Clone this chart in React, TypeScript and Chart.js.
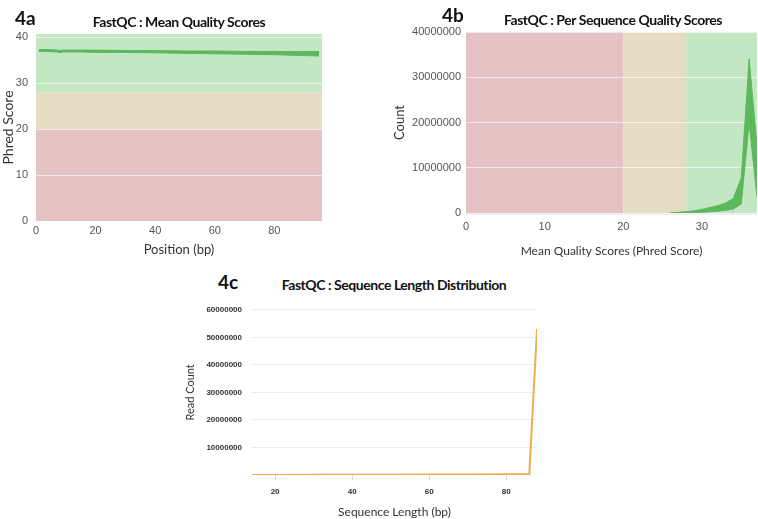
import React, { useEffect, useRef } from "react";
import { Chart, registerables } from "chart.js";

Chart.register(...registerables);

// ---------- Data ----------
// 4a : Mean quality scores (range across samples)
const A_POSITIONS = [1, 4, 7, 8, 9, 12, 15, 20, 30, 40, 50, 60, 70, 80, 90, 95];
const A_UPPER = [37.3, 37.3, 37.2, 37.1, 37.2, 37.2, 37.2, 37.2, 37.1, 37.1, 37.0, 37.0, 36.9, 36.9, 36.9, 36.9];
const A_LOWER = [36.9, 36.9, 36.8, 36.6, 36.8, 36.8, 36.8, 36.7, 36.7, 36.6, 36.5, 36.4, 36.3, 36.2, 36.0, 35.9];
const A_X_TICKS = [0, 20, 40, 60, 80];
const A_Y_TICKS = [0, 10, 20, 30, 40];
const A_BAND_LIMITS = [0, 20, 28, 40.7];

// 4b : Per sequence quality scores (range across samples)
const B_SCORES = [26, 27, 28, 29, 30, 31, 32, 33, 34, 35, 36, 37];
const B_UPPER = [50000, 150000, 300000, 500000, 800000, 1200000, 1600000, 2200000, 3200000, 7800000, 34000000, 15000000];
const B_LOWER = [0, 20000, 50000, 100000, 150000, 250000, 400000, 600000, 900000, 2000000, 20000000, 3500000];
const B_X_TICKS = [0, 10, 20, 30];
const B_Y_TICKS = [0, 10000000, 20000000, 30000000, 40000000];
const B_BAND_LIMITS = [0, 20, 28, 37];

// 4c : Sequence length distribution
const C_LENGTHS = [14, 20, 30, 40, 50, 60, 70, 80, 86, 88];
const C_COUNTS = [20000, 30000, 50000, 80000, 100000, 150000, 200000, 300000, 400000, 53000000];
const C_X_TICKS = [20, 40, 60, 80];
const C_Y_TICKS = [10000000, 20000000, 30000000, 40000000, 50000000, 60000000];

// ---------- Styles ----------
const GREEN = "#5cb85c";
const ORANGE = "#f0ad4e";
const BAND_COLORS = ["#e6c3c3", "#e6dcc3", "#c3e6c3"];
const TICK_FONT = { family: "'Liberation Sans', Arial, sans-serif", size: 11 };
const TITLE_FAMILY = "Lato, 'Open Sans', sans-serif";

const bandPlugin = {
  id: "bands",
  beforeDraw(chart: any, _args: any, opts: any) {
    if (!opts || !opts.limits) return;
    const { ctx, chartArea } = chart;
    const scale = chart.scales[opts.axis];
    const lim: number[] = opts.limits;
    ctx.save();
    for (let i = 0; i < lim.length - 1; i++) {
      const p1 = scale.getPixelForValue(lim[i]);
      const p2 = scale.getPixelForValue(lim[i + 1]);
      ctx.fillStyle = opts.colors[i];
      if (opts.axis === "y") {
        ctx.fillRect(chartArea.left, Math.min(p1, p2), chartArea.right - chartArea.left, Math.abs(p2 - p1));
      } else {
        ctx.fillRect(Math.min(p1, p2), chartArea.top, Math.abs(p2 - p1), chartArea.bottom - chartArea.top);
      }
    }
    if (opts.baseline) {
      ctx.fillStyle = opts.baseline;
      ctx.fillRect(chartArea.left, chartArea.bottom, chartArea.right - chartArea.left, 1.5);
    }
    ctx.restore();
  },
};

const pts = (xs: number[], ys: number[]) => xs.map((x, i) => ({ x, y: ys[i] }));
const fixTicks = (vals: number[]) => (s: any) => {
  s.ticks = vals.map((v) => ({ value: v }));
};

function configA(): any {
  return {
    type: "line",
    data: {
      datasets: [
        { data: pts(A_POSITIONS, A_UPPER), borderColor: GREEN, borderWidth: 1, pointRadius: 0, fill: false, tension: 0 },
        { data: pts(A_POSITIONS, A_LOWER), borderColor: GREEN, backgroundColor: GREEN, borderWidth: 1, pointRadius: 0, fill: "-1", tension: 0 },
      ],
    },
    plugins: [bandPlugin],
    options: {
      animation: false,
      responsive: false,
      events: [],
      layout: { padding: { top: 34, right: 18, left: 0, bottom: 0 } },
      plugins: {
        legend: { display: false },
        tooltip: { enabled: false },
        bands: { axis: "y", limits: A_BAND_LIMITS, colors: BAND_COLORS },
      },
      scales: {
        x: {
          type: "linear",
          min: 0,
          max: 96,
          afterBuildTicks: fixTicks(A_X_TICKS),
          afterFit: (s: any) => { s.height = 37; },
          grid: { display: false, drawTicks: false },
          border: { display: false },
          ticks: { font: TICK_FONT, color: "#555", padding: 3, maxRotation: 0 },
          title: { display: true, text: "Position (bp)", color: "#333", font: { family: TITLE_FAMILY, size: 13 }, padding: 0 },
        },
        y: {
          type: "linear",
          min: 0,
          max: 40.7,
          afterBuildTicks: fixTicks(A_Y_TICKS),
          afterFit: (s: any) => { s.width = 36; },
          grid: { color: "rgba(255,255,255,0.6)", drawTicks: false },
          border: { display: false },
          ticks: { font: TICK_FONT, color: "#555", padding: 8 },
          title: { display: true, text: "Phred Score", color: "#333", font: { family: TITLE_FAMILY, size: 14 }, padding: 0 },
        },
      },
    },
  };
}

function configB(): any {
  return {
    type: "line",
    data: {
      datasets: [
        { data: pts(B_SCORES, B_UPPER), borderColor: GREEN, borderWidth: 1, pointRadius: 0, fill: false, tension: 0 },
        { data: pts(B_SCORES, B_LOWER), borderColor: GREEN, backgroundColor: GREEN, borderWidth: 1, pointRadius: 0, fill: "-1", tension: 0 },
      ],
    },
    plugins: [bandPlugin],
    options: {
      animation: false,
      responsive: false,
      events: [],
      layout: { padding: { top: 32, right: 1, left: 0, bottom: 0 } },
      plugins: {
        legend: { display: false },
        tooltip: { enabled: false },
        bands: { axis: "x", limits: B_BAND_LIMITS, colors: BAND_COLORS, baseline: "#dcdce8" },
      },
      scales: {
        x: {
          type: "linear",
          min: 0,
          max: 37,
          afterBuildTicks: fixTicks(B_X_TICKS),
          afterFit: (s: any) => { s.height = 45; },
          grid: { display: false, drawTicks: false },
          border: { display: false },
          ticks: { font: TICK_FONT, color: "#555", padding: 7, maxRotation: 0 },
          title: { display: true, text: "Mean Quality Scores (Phred Score)", color: "#333", font: { family: TITLE_FAMILY, size: 12 }, padding: 0 },
        },
        y: {
          type: "linear",
          min: 0,
          max: 40000000,
          afterBuildTicks: fixTicks(B_Y_TICKS),
          afterFit: (s: any) => { s.width = 74; },
          grid: { color: "rgba(255,255,255,0.6)", drawTicks: false },
          border: { display: false },
          ticks: { font: TICK_FONT, color: "#555", padding: 5, callback: (v: any) => String(v) },
          title: { display: true, text: "Count", color: "#333", font: { family: TITLE_FAMILY, size: 13 }, padding: 0 },
        },
      },
    },
  };
}

function configC(): any {
  const smallTick = { family: "'Liberation Sans', Arial, sans-serif", size: 8, weight: "bold" };
  return {
    type: "line",
    data: {
      datasets: [
        { data: pts(C_LENGTHS, C_COUNTS), borderColor: ORANGE, borderWidth: 2, pointRadius: 0, fill: false, tension: 0 },
      ],
    },
    options: {
      animation: false,
      responsive: false,
      events: [],
      layout: { padding: { top: 8, right: 7, left: 0, bottom: 0 } },
      plugins: { legend: { display: false }, tooltip: { enabled: false } },
      scales: {
        x: {
          type: "linear",
          min: 14,
          max: 88,
          afterBuildTicks: fixTicks(C_X_TICKS),
          afterFit: (s: any) => { s.height = 44; },
          grid: { drawOnChartArea: false, drawTicks: true, tickLength: 5, color: "#d8d8d8" },
          border: { display: false },
          ticks: { font: smallTick, color: "#333", padding: 7, maxRotation: 0 },
          title: { display: true, text: "Sequence Length (bp)", color: "#333", font: { family: TITLE_FAMILY, size: 12 }, padding: 0 },
        },
        y: {
          type: "linear",
          min: 0,
          max: 60000000,
          afterBuildTicks: fixTicks(C_Y_TICKS),
          afterFit: (s: any) => { s.width = 68; },
          grid: { color: "#ececec", drawTicks: false },
          border: { display: false },
          ticks: { font: smallTick, color: "#333", padding: 10, callback: (v: any) => String(v) },
          title: { display: true, text: "Read Count", color: "#333", font: { family: TITLE_FAMILY, size: 11 }, padding: 0 },
        },
      },
    },
  };
}

const abs = (left: number, top: number, extra: React.CSSProperties = {}): React.CSSProperties => ({
  position: "absolute",
  left,
  top,
  ...extra,
});

const panelLabel: React.CSSProperties = {
  fontFamily: TITLE_FAMILY,
  fontWeight: 700,
  fontSize: 19,
  lineHeight: "20px",
  color: "#111",
};
const chartTitle: React.CSSProperties = {
  fontFamily: TITLE_FAMILY,
  fontWeight: 700,
  fontSize: 14,
  letterSpacing: "-0.45px",
  lineHeight: "18px",
  color: "#111",
  textAlign: "center",
  whiteSpace: "nowrap",
};

export default function App() {
  const refA = useRef<HTMLCanvasElement>(null);
  const refB = useRef<HTMLCanvasElement>(null);
  const refC = useRef<HTMLCanvasElement>(null);

  useEffect(() => {
    const charts = [
      new Chart(refA.current!, configA()),
      new Chart(refB.current!, configB()),
      new Chart(refC.current!, configC()),
    ];
    return () => charts.forEach((c) => c.destroy());
  }, []);

  return (
    <div style={{ position: "absolute", left: 0, top: 0, width: 758, height: 519, background: "#fff", overflow: "hidden" }}>
      <canvas ref={refA} width={340} height={258} style={abs(0, 0, { width: 340, height: 258 })} />
      <canvas ref={refB} width={366} height={258} style={abs(392, 0, { width: 366, height: 258 })} />
      <canvas ref={refC} width={360} height={224} style={abs(184, 295, { width: 360, height: 224 })} />

      <div style={abs(15, 8, panelLabel)}>4a</div>
      <div style={abs(442, 5, panelLabel)}>4b</div>
      <div style={abs(218, 272, panelLabel)}>4c</div>

      <div style={abs(29, 13, { ...chartTitle, width: 300 })}>FastQC : Mean Quality Scores</div>
      <div style={abs(463, 11, { ...chartTitle, width: 300 })}>FastQC : Per Sequence Quality Scores</div>
      <div style={abs(244, 276, { ...chartTitle, width: 300 })}>FastQC : Sequence Length Distribution</div>
    </div>
  );
}
